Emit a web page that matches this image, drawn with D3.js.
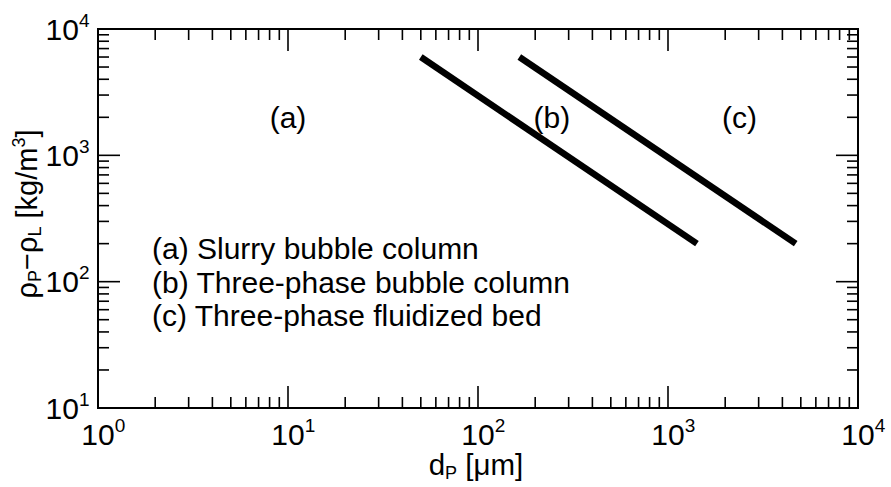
<!DOCTYPE html>
<html>
<head>
<meta charset="utf-8">
<script src="https://cdn.jsdelivr.net/npm/d3@7"></script>
<style>
  html, body { margin: 0; padding: 0; background: #fff; }
  svg { display: block; font-family: "Liberation Sans", Arial, sans-serif; }
</style>
</head>
<body>
<svg id="chart" width="891" height="487"></svg>
<script>
// Axis ranges (log scales)
const xDomain = [1, 1e4];
const yDomain = [10, 1e4];
const xMajorTicks = [1, 10, 100, 1000, 10000];
const yMajorTicks = [10, 100, 1000, 10000];
const xTickExponents = ["0", "1", "2", "3", "4"];
const yTickExponents = ["1", "2", "3", "4"];

// Regime boundary lines: particle diameter [µm] vs density difference [kg/m3]
const boundaryB = [{ d: 50, rho: 6000 }, { d: 1420, rho: 200 }];
const boundaryC = [{ d: 165, rho: 6000 }, { d: 4700, rho: 200 }];

// Region tags placed in data coordinates
const regionNames = ["(a)", "(b)", "(c)"];
const regionX = [10, 245, 2380];
const regionY = [2000, 2000, 2000];

// Legend entries
const legendItems = [
  "(a) Slurry bubble column",
  "(b) Three-phase bubble column",
  "(c) Three-phase fluidized bed"
];

const svg = d3.select("#chart");
const margin = { left: 98, top: 29, right: 33, bottom: 79 };
const W = 891 - margin.left - margin.right;
const H = 487 - margin.top - margin.bottom;

const x = d3.scaleLog().domain(xDomain).range([0, W]);
const y = d3.scaleLog().domain(yDomain).range([H, 0]);

const g = svg.append("g").attr("transform", `translate(${margin.left},${margin.top})`);

// minor tick values 2..9 per decade
function minorTicks(domain) {
  const out = [];
  for (let p = Math.log10(domain[0]); p < Math.log10(domain[1]); p++) {
    for (let m = 2; m <= 9; m++) out.push(m * Math.pow(10, p));
  }
  return out;
}
const xMinor = minorTicks(xDomain);
const yMinor = minorTicks(yDomain);

const majorLen = 22, minorLen = 11;
const tickGroup = g.append("g").attr("stroke", "#000").attr("stroke-width", 1.6);

// bottom and top ticks, pointing inward
[[xMajorTicks, majorLen], [xMinor, minorLen]].forEach(([vals, len]) => {
  tickGroup.selectAll(null).data(vals).enter().append("line")
    .attr("x1", d => x(d)).attr("x2", d => x(d))
    .attr("y1", H).attr("y2", H - len);
  tickGroup.selectAll(null).data(vals).enter().append("line")
    .attr("x1", d => x(d)).attr("x2", d => x(d))
    .attr("y1", 0).attr("y2", len);
});
// left and right ticks, pointing inward
[[yMajorTicks, majorLen], [yMinor, minorLen]].forEach(([vals, len]) => {
  tickGroup.selectAll(null).data(vals).enter().append("line")
    .attr("y1", d => y(d)).attr("y2", d => y(d))
    .attr("x1", 0).attr("x2", len);
  tickGroup.selectAll(null).data(vals).enter().append("line")
    .attr("y1", d => y(d)).attr("y2", d => y(d))
    .attr("x1", W).attr("x2", W - len);
});

// frame
g.append("rect")
  .attr("x", 0).attr("y", 0).attr("width", W).attr("height", H)
  .attr("fill", "none").attr("stroke", "#000").attr("stroke-width", 2);

// tick labels: "10" with a superscript exponent
const tickFont = 30, supFont = 19;
xMajorTicks.forEach((v, i) => {
  const t = g.append("text")
    .attr("x", x(v) - 16.7).attr("y", H + 37)
    .attr("font-size", tickFont).attr("fill", "#000");
  t.append("tspan").text("10");
  t.append("tspan").attr("font-size", supFont).attr("dy", -13).text(xTickExponents[i]);
});
yMajorTicks.forEach((v, i) => {
  const t = g.append("text")
    .attr("x", -52.5).attr("y", y(v) + 10.5)
    .attr("font-size", tickFont).attr("fill", "#000");
  t.append("tspan").text("10");
  t.append("tspan").attr("font-size", supFont).attr("dy", -13).text(yTickExponents[i]);
});

// boundary lines
const line = d3.line().x(d => x(d.d)).y(d => y(d.rho));
[boundaryB, boundaryC].forEach(pts => {
  g.append("path").datum(pts)
    .attr("d", line)
    .attr("fill", "none").attr("stroke", "#000")
    .attr("stroke-width", 6.5).attr("stroke-linecap", "butt");
});

// region tags
regionNames.forEach((s, i) => {
  g.append("text")
    .attr("x", x(regionX[i])).attr("y", y(regionY[i]))
    .attr("text-anchor", "middle").attr("dy", "0.35em")
    .attr("font-size", 30).attr("fill", "#000")
    .text(s);
});

// legend: one multi-line text block
const legendX = 152 - margin.left;
const legend = g.append("text")
  .attr("x", legendX).attr("y", 259 - margin.top)
  .attr("font-size", 30).attr("fill", "#000");
legend.selectAll("tspan").data(legendItems).enter().append("tspan")
  .attr("x", legendX)
  .attr("dy", (d, i) => i === 0 ? 0 : 33.5)
  .text(d => d);

// x axis title: d_P [µm]
const xt = svg.append("text")
  .attr("x", margin.left + W / 2 - 2).attr("y", 475)
  .attr("text-anchor", "middle")
  .attr("font-size", 29.5).attr("fill", "#000");
xt.append("tspan").text("d");
xt.append("tspan").attr("font-size", 18).attr("dy", 4).text("P");
xt.append("tspan").attr("dy", -4).text(" [\u03BCm]");

// y axis title: ρP−ρL [kg/m3]
const yt = svg.append("text")
  .attr("transform", `translate(37,214) rotate(-90)`)
  .attr("text-anchor", "middle")
  .attr("font-size", 29).attr("fill", "#000");
yt.append("tspan").text("\u03C1");
yt.append("tspan").attr("font-size", 18).attr("dy", 4).text("P");
yt.append("tspan").attr("dy", -4).text("\u2212\u03C1");
yt.append("tspan").attr("font-size", 18).attr("dy", 4).text("L");
yt.append("tspan").attr("dy", -4).text(" [kg/m");
yt.append("tspan").attr("font-size", 18).attr("dy", -12).text("3");
yt.append("tspan").attr("dy", 12).text("]");
</script>
</body>
</html>
